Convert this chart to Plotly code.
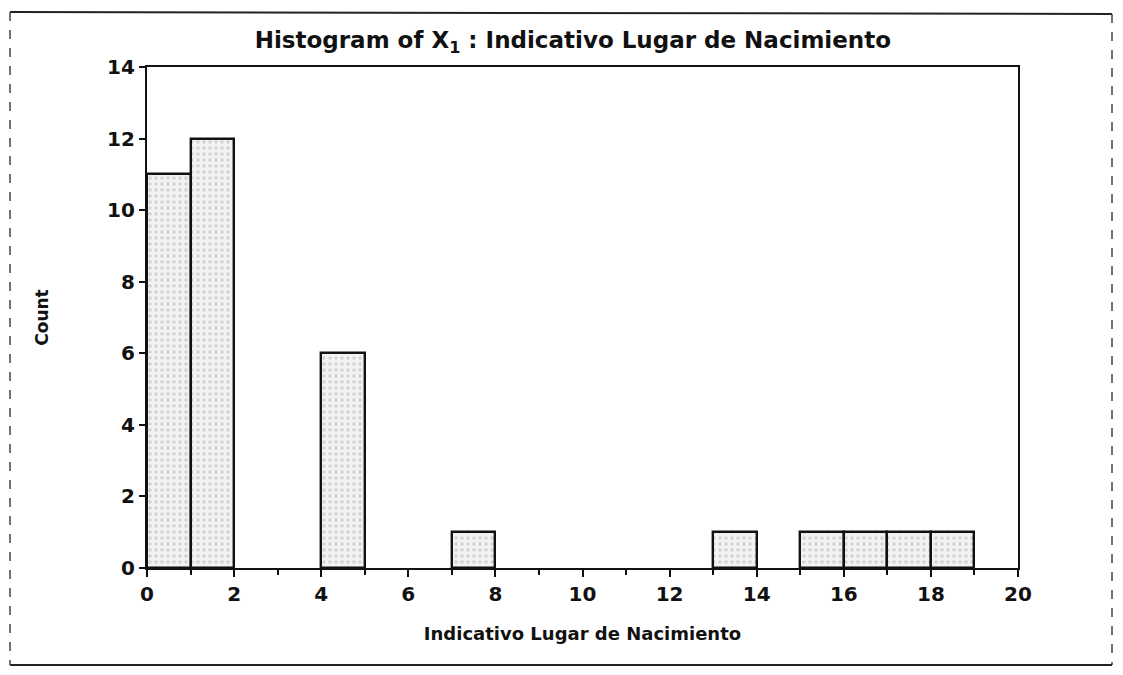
import plotly.graph_objects as go

# Data (bins of width 1)
bin_left = [0, 1, 4, 7, 13, 15, 16, 17, 18]
counts = [11, 12, 6, 1, 1, 1, 1, 1, 1]
bin_width = 1
x_ticks = [0, 2, 4, 6, 8, 10, 12, 14, 16, 18, 20]
y_ticks = [0, 2, 4, 6, 8, 10, 12, 14]

title_text = "Histogram of X<sub>1</sub> : Indicativo Lugar de Nacimiento"
x_title = "Indicativo Lugar de Nacimiento"
y_title = "Count"

centers = [b + bin_width / 2 for b in bin_left]

fig = go.Figure()
fig.add_trace(go.Bar(
    x=centers, y=counts, width=[bin_width] * len(centers),
    marker=dict(
        color="#f2f2f2",
        line=dict(color="#111111", width=2.4),
        pattern=dict(shape=".", fgcolor="#b0b0b0", bgcolor="#f2f2f2", size=6, solidity=0.25),
    ),
    showlegend=False,
))

font_main = "DejaVu Sans"
ink = "#111111"
fig.update_layout(
    width=1123, height=675,
    paper_bgcolor="white", plot_bgcolor="white",
    margin=dict(l=139, r=113, t=59, b=115),
    title=dict(text="<b>" + title_text + "</b>", x=0.503, xanchor="center",
               y=1 - 32 / 675, yanchor="middle",
               font=dict(family=font_main, size=23, color=ink)),
    bargap=0,
    xaxis=dict(
        range=[0, 20], tickvals=x_ticks, ticks="outside", ticklen=7, tickwidth=1.5,
        tickcolor=ink, showline=True, linecolor=ink, linewidth=2.2,
        mirror=True, showgrid=False, zeroline=False,
        tickfont=dict(family=font_main, size=20, color=ink, weight="bold"),
        minor=dict(tickvals=[1, 3, 5, 7, 9, 11, 13, 15, 17, 19], ticks="outside",
                   ticklen=5, tickcolor=ink),
        title=dict(text="<b>" + x_title + "</b>", standoff=22,
                   font=dict(family=font_main, size=18, color=ink)),
    ),
    yaxis=dict(
        range=[0, 14], tickvals=y_ticks, ticks="outside", ticklen=6, tickwidth=1.5,
        tickcolor=ink, showline=True, linecolor=ink, linewidth=2.2,
        mirror=True, showgrid=False, zeroline=False,
        tickfont=dict(family=font_main, size=20, color=ink, weight="bold"),
        title=dict(text="<b>" + y_title + "</b>", standoff=54,
                   font=dict(family=font_main, size=17, color=ink)),
    ),
)

# page border (scanned frame)
pw, ph = 1018 - 147, 568 - 67
def px(xp):
    return (xp - 147) / pw
def py(yp):
    return (568 - yp) / ph

fig.add_shape(type="line", xref="paper", yref="paper", x0=px(10), x1=px(1112),
              y0=py(12), y1=py(14), line=dict(color="#222222", width=2))
fig.add_shape(type="line", xref="paper", yref="paper", x0=px(10), x1=px(1112),
              y0=py(665), y1=py(665), line=dict(color="#222222", width=2))
fig.add_shape(type="line", xref="paper", yref="paper", x0=px(10), x1=px(10),
              y0=py(12), y1=py(665), line=dict(color="#444444", width=1.5, dash="dash"))
fig.add_shape(type="line", xref="paper", yref="paper", x0=px(1112), x1=px(1112),
              y0=py(14), y1=py(665), line=dict(color="#444444", width=1.5, dash="dash"))

fig.write_html("out.html")
